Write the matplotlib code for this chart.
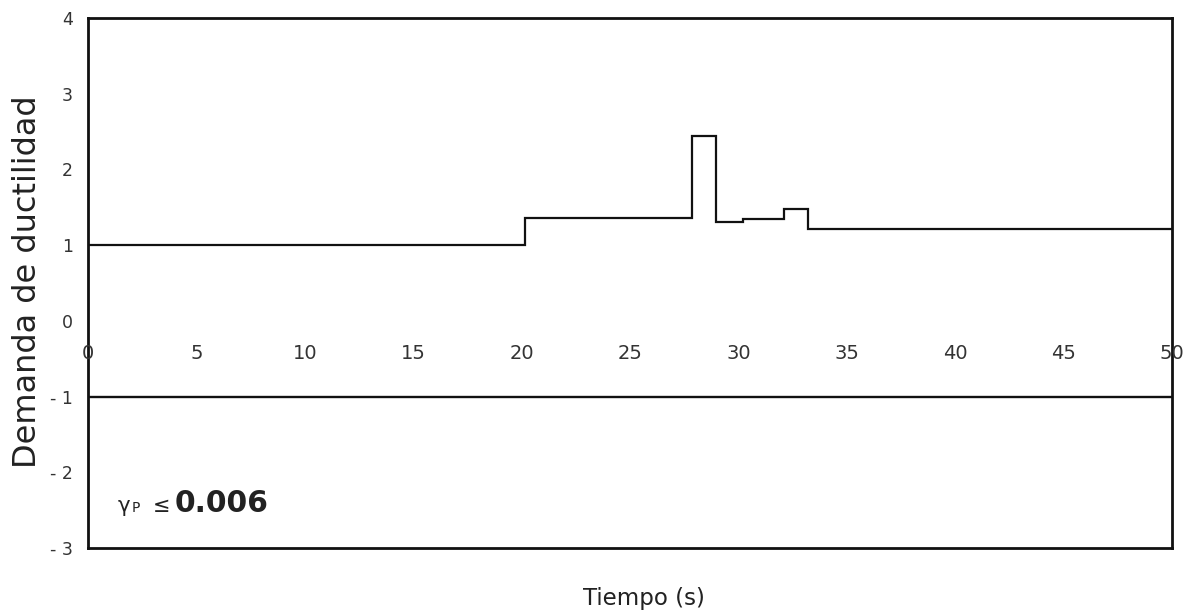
import matplotlib
matplotlib.use("Agg")
import matplotlib.pyplot as plt

# ---- data ----
step_times = [0, 20.15, 27.85, 28.95, 30.2, 32.1, 33.2, 50]
step_values = [1.00, 1.36, 2.44, 1.30, 1.34, 1.48, 1.21, 1.21]
neg_times = [0, 50]
neg_values = [-1, -1]
x_ticks = [0, 5, 10, 15, 20, 25, 30, 35, 40, 45, 50]
x_tick_labels = ["0", "5", "10", "15", "20", "25", "30", "35", "40", "45", "50"]
y_ticks = [4, 3, 2, 1, 0, -1, -2, -3]
y_tick_labels = ["4", "3", "2", "1", "0", "- 1", "- 2", "- 3"]

plt.rcParams['font.family'] = ['DejaVu Sans']

W, H = 1188, 615
fig = plt.figure(figsize=(W / 100, H / 100), dpi=100)
ax = fig.add_axes([88 / W, 1 - 548 / H, (1172 - 88) / W, (548 - 18) / H])

ax.plot(step_times, step_values, drawstyle='steps-post', color='#111111', lw=1.6,
        solid_joinstyle='miter')
ax.plot(neg_times, neg_values, color='#111111', lw=1.7)

ax.set_xlim(0, 50)
ax.set_ylim(-3, 4)

for s in ax.spines.values():
    s.set_linewidth(2.0)
    s.set_color('#111111')

ax.set_xticks([])
ax.set_yticks(y_ticks)
ax.set_yticklabels(y_tick_labels, fontsize=12.5, color='#333333')
ax.tick_params(axis='y', length=0, pad=11)

# x tick labels drawn along the zero line (slightly below)
for t, lab in zip(x_ticks, x_tick_labels):
    ax.annotate(lab, (t, 0), xytext=(0, -33 * 0.72), textcoords='offset points',
                ha='center', va='center', fontsize=14, color='#333333',
                annotation_clip=False)

fig.text(28 / W, 1 - 282 / H, "Demanda de ductilidad", rotation=90,
         ha='center', va='center', fontsize=23, color='#222222')
fig.text(644 / W, 1 - 598 / H, "Tiempo (s)", ha='center', va='center',
         fontsize=16.5, color='#222222')

# annotation  γP ≤ 0.006
t0 = (118 - 88) / 1084 * 50
yb = -2.53
ax.annotate("γ", (t0, yb), xytext=(0, 0), textcoords='offset points',
            ha='left', va='baseline', fontsize=15.5, color='#222222')
ax.annotate("P", (t0, yb), xytext=(14 * 0.72, 0), textcoords='offset points',
            ha='left', va='baseline', fontsize=10, color='#222222')
ax.annotate("≤", (t0, yb), xytext=(35 * 0.72, 0), textcoords='offset points',
            ha='left', va='baseline', fontsize=15, color='#222222')
ax.annotate("0.006", (t0, yb), xytext=(57 * 0.72, 0), textcoords='offset points',
            ha='left', va='baseline', fontsize=21.5, fontweight='semibold', color='#222222')

fig.savefig("out.png", dpi=100, facecolor='white')
